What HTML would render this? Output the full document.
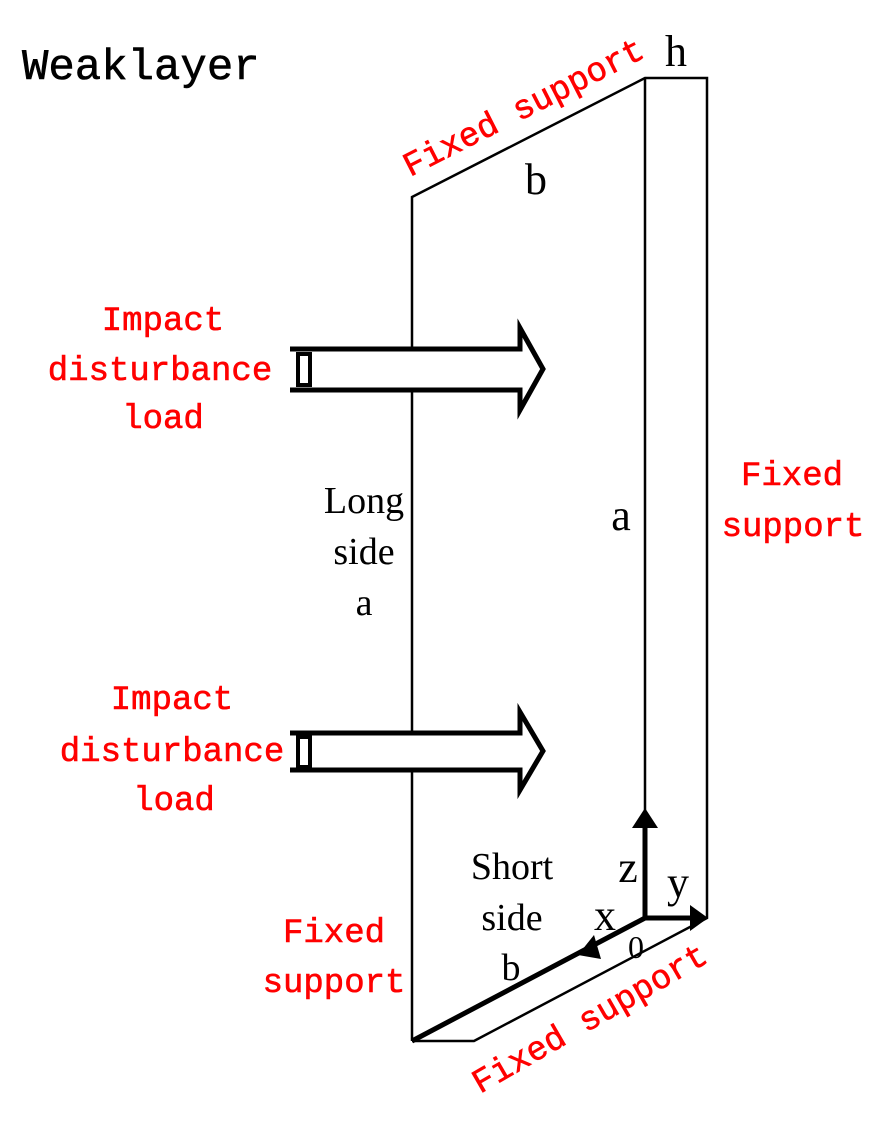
<!DOCTYPE html>
<html><head><style>
body{margin:0;background:#fff;}
svg text{font-family:"Liberation Mono","WenQuanYi Zen Hei",monospace;}
.r{fill:#f00;font-size:34px;stroke:#f00;stroke-width:0.6px;}
.s{font-family:"Liberation Serif",serif !important;fill:#000;}
</style></head><body>
<svg width="891" height="1121" viewBox="0 0 891 1121" xmlns="http://www.w3.org/2000/svg">
<g fill="none" stroke="#000" stroke-width="2.5">
<polyline points="412,1041 412,197 645,78 707,78 707,918 474,1041 412,1041"/>
<line x1="645" y1="78" x2="645" y2="918"/>
</g>
<line x1="412" y1="1041" x2="645" y2="918" stroke="#000" stroke-width="5"/>
<line x1="645" y1="918" x2="645" y2="820" stroke="#000" stroke-width="5"/>
<polygon points="645,808 632,828 658,828" fill="#000"/>
<line x1="645" y1="918" x2="695" y2="918" stroke="#000" stroke-width="5"/>
<polygon points="708,918 690,905 690,931" fill="#000"/>
<polygon points="578,955 594,935 601,959" fill="#000"/>
<g fill="#fff" stroke="#000" stroke-width="5">
<path d="M290,349 H520 V328 L543,369 L520,410 V390 H290"/>
<rect x="298" y="354" width="12" height="31" stroke-width="4"/>
<path d="M290,733 H520 V712 L543,751 L520,790 V770 H290"/>
<rect x="298" y="737" width="12" height="30" stroke-width="4"/>
</g>
<text x="22" y="79" font-size="44" stroke="#000" stroke-width="0.6">Weaklayer</text>
<text class="r" x="163" y="330" text-anchor="middle">Impact</text>
<text class="r" x="160" y="380" text-anchor="middle">disturbance</text>
<text class="r" x="163" y="428" text-anchor="middle">load</text>
<text class="r" x="172" y="709" text-anchor="middle">Impact</text>
<text class="r" x="172" y="761" text-anchor="middle">disturbance</text>
<text class="r" x="174" y="810" text-anchor="middle">load</text>
<text class="r" x="792" y="485" text-anchor="middle">Fixed</text>
<text class="r" x="793" y="536" text-anchor="middle">support</text>
<text class="r" x="334" y="942" text-anchor="middle">Fixed</text>
<text class="r" x="334" y="992" text-anchor="middle">support</text>
<text class="r" font-size="37" transform="translate(410,177) rotate(-27)">Fixed support</text>
<text class="r" font-size="37" transform="translate(480,1094) rotate(-30)">Fixed support</text>
<text class="s" x="676" y="66" font-size="44" text-anchor="middle">h</text>
<text class="s" x="536" y="194" font-size="44" text-anchor="middle">b</text>
<text class="s" x="621" y="530" font-size="44" text-anchor="middle">a</text>
<text class="s" x="364" y="513" font-size="38" text-anchor="middle">Long</text>
<text class="s" x="364" y="564" font-size="38" text-anchor="middle">side</text>
<text class="s" x="364" y="615" font-size="38" text-anchor="middle">a</text>
<text class="s" x="512" y="879" font-size="38" text-anchor="middle">Short</text>
<text class="s" x="512" y="930" font-size="38" text-anchor="middle">side</text>
<text class="s" x="511" y="980" font-size="38" text-anchor="middle">b</text>
<text class="s" x="628" y="882" font-size="44" text-anchor="middle">z</text>
<text class="s" x="678" y="897" font-size="44" text-anchor="middle">y</text>
<text class="s" x="605" y="930" font-size="44" text-anchor="middle">x</text>
<text class="s" x="636" y="958" font-size="32" text-anchor="middle">0</text>
</svg>
</body></html>
